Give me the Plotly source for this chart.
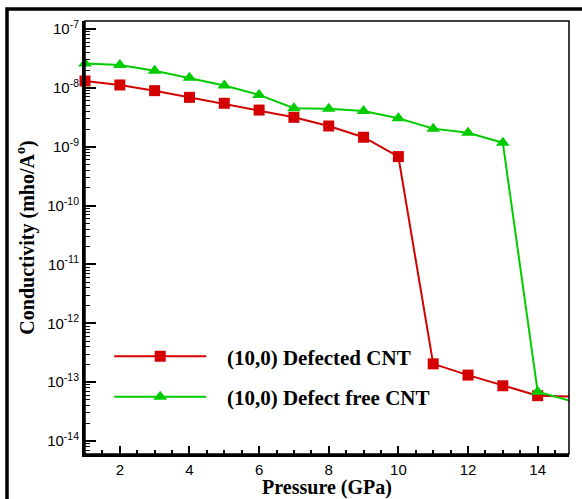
import plotly.graph_objects as go

pressure = [1, 2, 3, 4, 5, 6, 7, 8, 9, 10, 11, 12, 13, 14, 15]
defected = [1.31e-8, 1.12e-8, 8.97e-9, 6.9e-9, 5.47e-9, 4.2e-9, 3.16e-9, 2.25e-9,
            1.45e-9, 6.8e-10, 2.05e-13, 1.32e-13, 8.7e-14, 5.9e-14, 5.7e-14]
defect_free = [2.6e-8, 2.45e-8, 1.96e-8, 1.49e-8, 1.1e-8, 7.6e-9, 4.5e-9, 4.4e-9,
               4.05e-9, 3.04e-9, 2.03e-9, 1.73e-9, 1.17e-9, 6.9e-14, 4.7e-14]
names = ["(10,0) Defected CNT", "(10,0) Defect free CNT"]
y_tickvals = [1e-7, 1e-8, 1e-9, 1e-10, 1e-11, 1e-12, 1e-13, 1e-14]
y_ticktext = ["10<sup>-7</sup>", "10<sup>-8</sup>", "10<sup>-9</sup>", "10<sup>-10</sup>",
              "10<sup>-11</sup>", "10<sup>-12</sup>", "10<sup>-13</sup>", "10<sup>-14</sup>"]
x_tickvals = [2, 4, 6, 8, 10, 12, 14]

RED = "#d40000"
GREEN = "#00cc00"
SERIF = "Liberation Serif"
SANS = "Liberation Sans"
PAD = "\u00a0\u00a0\u00a0"

fig = go.Figure()
fig.add_trace(go.Scatter(x=pressure, y=defected, name=PAD + names[0], mode="lines+markers",
                         line=dict(color=RED, width=2),
                         marker=dict(symbol="square", size=11, color=RED),
                         legendgroup="a", cliponaxis=False))
fig.add_trace(go.Scatter(x=pressure, y=defect_free, name=PAD + names[1], mode="lines+markers",
                         line=dict(color=GREEN, width=2),
                         marker=dict(symbol="triangle-up", size=12, color=GREEN),
                         legendgroup="b", cliponaxis=False))

L, R, T, B = 85, 13, 21, 45
W, H = 582, 499
pw, ph = W - L - R, H - T - B

fig.update_layout(
    width=W, height=H,
    margin=dict(l=L, r=R, t=T, b=B, autoexpand=False),
    paper_bgcolor="white", plot_bgcolor="white",
    showlegend=True,
    legend=dict(x=0.05, y=0.272, xanchor="left", yanchor="top",
                bgcolor="rgba(0,0,0,0)", traceorder="grouped", tracegroupgap=10,
                itemwidth=92,
                font=dict(family=SERIF, size=21, color="black", weight="bold")),
    xaxis=dict(range=[1, 14.9], tickvals=x_tickvals, ticks="inside", ticklen=8, tickwidth=2,
               tickcolor="black", showline=True, linecolor="black", linewidth=3,
               showgrid=False, zeroline=False, automargin=False,
               minor=dict(dtick=0.5, ticks="inside", ticklen=4, tickwidth=1.5, tickcolor="black"),
               tickfont=dict(family=SANS, size=15, color="black"),
               title=dict(text="Pressure (GPa)", standoff=4,
                          font=dict(family=SERIF, size=20, color="black", weight="bold"))),
    yaxis=dict(type="log", range=[-14.22, -6.864], tickvals=y_tickvals, ticktext=y_ticktext,
               ticks="inside", ticklen=11, tickwidth=2, tickcolor="black",
               showline=True, linecolor="black", linewidth=3,
               showgrid=False, zeroline=False, automargin=False,
               minor=dict(ticks="inside", ticklen=5, tickwidth=1, tickcolor="black", dtick="D1"),
               tickfont=dict(family=SANS, size=15, color="black"),
               title=dict(text="Conductivity (mho/A<sup>o</sup>)", standoff=8,
                          font=dict(family=SERIF, size=20, color="black", weight="bold"))),
)

# plot-area frame (thinner top/right)
fig.add_shape(type="rect", xref="paper", yref="paper", x0=0, x1=1, y0=0, y1=1,
              line=dict(color="black", width=1.5), layer="above")
# outer figure frame
fig.add_shape(type="rect", xref="paper", yref="paper",
              x0=(7 - L) / pw, x1=(600 - L) / pw,
              y0=(H - B - 520) / ph, y1=(H - B - 9) / ph,
              line=dict(color="black", width=3.5))

fig.write_html("out.html", config={"displayModeBar": False},
               post_script="document.body.style.margin='0';document.body.style.overflow='hidden';")
